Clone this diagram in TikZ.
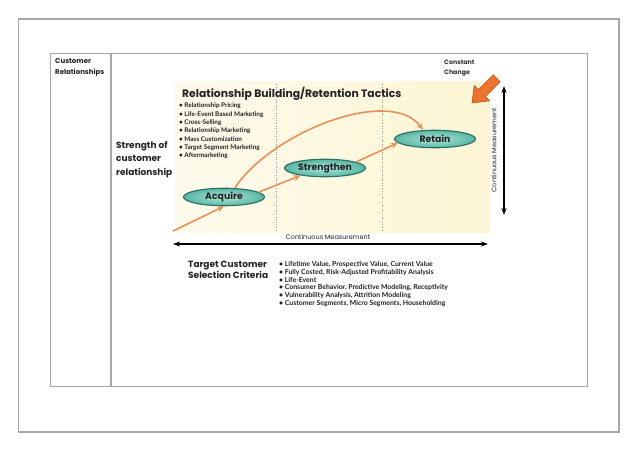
\documentclass[tikz,border=0pt]{standalone}
\usepackage{fontspec}
\setmainfont{Poppins}
\newfontfamily\bulfont{Lato}
\usetikzlibrary{arrows.meta,shapes.geometric}
\definecolor{bordergray}{HTML}{A6A6A6}
\definecolor{cream}{HTML}{FCF5D4}
\definecolor{orangeline}{HTML}{E8905A}
\definecolor{blockorange}{HTML}{EC7230}
\definecolor{tealin}{HTML}{B0E6D8}
\definecolor{tealout}{HTML}{58B6A4}
\definecolor{tealdark}{HTML}{2B6F63}
\definecolor{textdark}{HTML}{222222}
\tikzset{
  ell/.style={ellipse, draw=tealdark, line width=1.1pt, inner color=tealin, outer color=tealout,
    minimum width=81pt, minimum height=17.5pt, inner sep=0pt, font=\bfseries\fontsize{9.3}{10}\selectfont, text=textdark},
  oline/.style={draw=orangeline, line width=1.6pt, -{Stealth[length=7pt,width=6pt]}},
  blk/.style={draw=black, line width=1.2pt, {Stealth[length=7pt,width=5pt]}-{Stealth[length=7pt,width=5pt]}},
  bullets/.style={anchor=north west, inner sep=0pt, align=left, text=textdark},
  heading/.style={anchor=north west, inner sep=0pt, align=left, text=textdark, font=\bfseries\fontsize{9}{11}\selectfont},
  dotline/.style={draw=gray!80, line width=0.6pt, dotted}
}
\begin{document}
\begin{tikzpicture}[x=1pt,y=-1pt]
\useasboundingbox (0,0) rectangle (638,452);
\fill[white] (0,0) rectangle (638,452);
% page and table borders
\draw[bordergray, line width=1.3pt] (18.5,19) rectangle (619,432);
\draw[bordergray, line width=0.9pt] (50.5,53) rectangle (587,386);
\draw[bordergray, line width=1.2pt] (111,53) -- (111,386);
\node[heading, font=\bfseries\fontsize{7}{11}\selectfont] (cr) at (55,58) {Customer\\Relationships};
% cream panel
\shade[left color=cream!45!white, right color=cream] (175,82) rectangle (490,232);
\draw[dotline] (276,84) -- (276,232);
\draw[dotline] (382,84) -- (382,232);
% title
\node[anchor=west, inner sep=0pt, text=textdark, font=\bfseries\fontsize{10.8}{12}\selectfont] (title) at (182,94) {Relationship Building/Retention Tactics};
\node[bullets, font=\bulfont\bfseries\fontsize{6.4}{8.3}\selectfont] (tac) at (179,103) {%
• Relationship Pricing\\
• Life-Event Based Marketing\\
• Cross-Selling\\
• Relationship Marketing\\
• Mass Customization\\
• Target Segment Marketing\\
• Aftermarketing};
% ellipses
\node[ell] (acq) at (224,197) {Acquire};
\node[ell] (str) at (325,168) {Strengthen};
\node[ell] (ret) at (435,139) {Retain};
% orange connectors
\coordinate (s0) at (173,231);
\draw[oline] (s0) -- (acq.south);
\draw[oline] (acq.8) -- (str.197);
\draw[oline] (str.11) -- (ret.186);
\draw[oline] ([xshift=11pt]acq.north) .. controls (272,132) and (390,86) .. ([xshift=-12pt]ret.north);
% Constant change
\node[heading, font=\bfseries\fontsize{6.3}{10}\selectfont, text=black!80] (cc) at (444,59.5) {Constant\\Change};
\begin{scope}[shift={(484,91)}, rotate=225]
\filldraw[fill=blockorange, draw=blockorange!75!black, line width=0.5pt]
 (-18,-5) -- (3,-5) -- (3,-11) -- (17,0) -- (3,11) -- (3,5) -- (-18,5) -- cycle;
\end{scope}
% measurement arrows
\coordinate (hl) at (173,244);
\coordinate (hr) at (488,244);
\draw[blk] (hl) -- (hr);
\node[inner sep=0pt, text=textdark, font=\fontsize{6.5}{8}\selectfont] (cmh) at (328,237) {Continuous Measurement};
\coordinate (vt) at (504,86);
\coordinate (vb) at (504,215);
\draw[blk] (vt) -- (vb);
\node[inner sep=0pt, text=textdark, rotate=90, font=\fontsize{6.5}{8}\selectfont] (cmv) at (494,150) {Continuous Measurement};
% left label
\node[heading, font=\bfseries\fontsize{9}{13.5}\selectfont] (sc) at (116,141) {Strength of\\customer\\relationship};
% target criteria
\node[heading, font=\bfseries\fontsize{9}{10.5}\selectfont] (tc) at (188,261) {Target Customer\\Selection Criteria};
\node[bullets, font=\bulfont\bfseries\fontsize{6.9}{7.7}\selectfont] (crit) at (279,261.5) {%
• Lifetime Value, Prospective Value, Current Value\\
• Fully Costed, Risk-Adjusted Profitability Analysis\\
• Life-Event\\
• Consumer Behavior, Predictive Modeling, Receptivity\\
• Vulnerability Analysis, Attrition Modeling\\
• Customer Segments, Micro Segments, Householding};
\end{tikzpicture}
\end{document}
